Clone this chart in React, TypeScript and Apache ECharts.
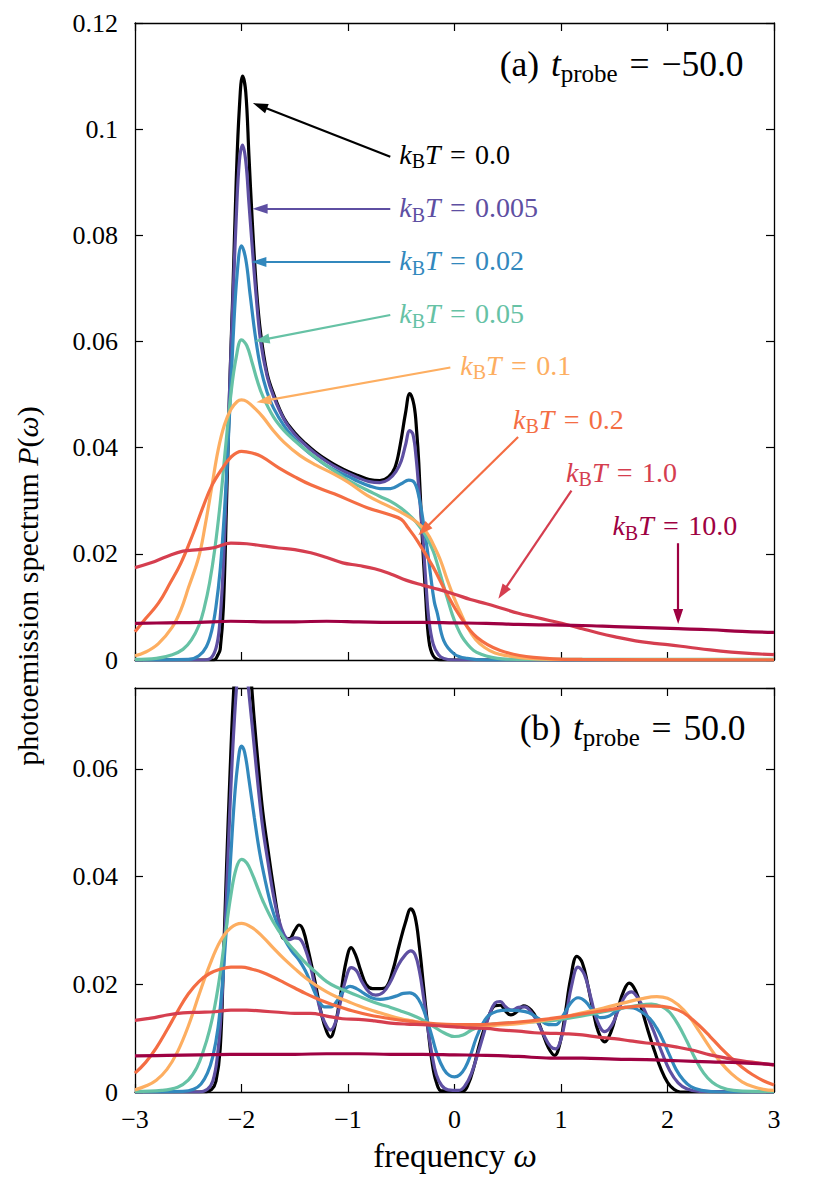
import React, { useEffect, useRef } from "react";
import * as echarts from "echarts";

const FONT = "Liberation Serif";

const temperatures = ["0.0", "0.005", "0.02", "0.05", "0.1", "0.2", "1.0", "10.0"];
const colors = ["#000000", "#5e4fa2", "#3288bd", "#66c2a5", "#fdae61", "#f46d43", "#d53e4f", "#9e0142"];

// ---- panel (a): t_probe = -50.0 ----
const a_T0 = [[-3,0],[-2.35,0],[-2.26,0],[-2.22,0.001],[-2.2,0.002],[-2.17,0.01],[-2.14,0.03],[-2.11,0.052],[-2.08,0.07],[-2.05,0.09],[-2.02,0.104],[-1.99,0.110],[-1.96,0.107],[-1.93,0.095],[-1.9,0.083],[-1.86,0.070],[-1.82,0.0615],[-1.76,0.054],[-1.7,0.0502],[-1.6,0.0455],[-1.5,0.0428],[-1.4,0.0408],[-1.3,0.0391],[-1.2,0.0377],[-1.1,0.0365],[-1.0,0.0355],[-0.9,0.0347],[-0.8,0.034],[-0.7,0.0338],[-0.62,0.0345],[-0.56,0.0362],[-0.51,0.0405],[-0.46,0.0465],[-0.42,0.0502],[-0.38,0.048],[-0.355,0.043],[-0.335,0.037],[-0.305,0.024],[-0.27,0.0118],[-0.24,0.0036],[-0.2,0.0008],[-0.13,0],[3,0]];
const a_T0005 = [[-3,0],[-2.35,0],[-2.28,0.0005],[-2.23,0.003],[-2.2,0.008],[-2.17,0.018],[-2.14,0.034],[-2.11,0.052],[-2.08,0.068],[-2.05,0.083],[-2.02,0.094],[-1.99,0.097],[-1.96,0.094],[-1.93,0.086],[-1.9,0.078],[-1.86,0.068],[-1.82,0.060],[-1.76,0.0535],[-1.7,0.0497],[-1.6,0.0453],[-1.5,0.0425],[-1.4,0.0405],[-1.3,0.0388],[-1.2,0.0374],[-1.1,0.0362],[-1.0,0.0352],[-0.9,0.0343],[-0.8,0.0336],[-0.7,0.0334],[-0.62,0.034],[-0.55,0.0355],[-0.5,0.0375],[-0.46,0.0405],[-0.42,0.0432],[-0.39,0.0425],[-0.36,0.038],[-0.33,0.031],[-0.3,0.024],[-0.27,0.015],[-0.24,0.0075],[-0.2,0.003],[-0.15,0.001],[-0.1,0.0003],[0,0],[3,0]];
const a_T002 = [[-3,0],[-2.5,0.0001],[-2.4,0.0008],[-2.33,0.0025],[-2.28,0.0055],[-2.24,0.010],[-2.2,0.017],[-2.16,0.028],[-2.12,0.043],[-2.08,0.060],[-2.04,0.073],[-2.0,0.078],[-1.96,0.0755],[-1.92,0.069],[-1.87,0.061],[-1.82,0.055],[-1.76,0.0505],[-1.7,0.0475],[-1.6,0.0441],[-1.5,0.0416],[-1.4,0.0396],[-1.3,0.038],[-1.2,0.0366],[-1.1,0.0355],[-1.0,0.0346],[-0.9,0.0336],[-0.8,0.0328],[-0.7,0.0323],[-0.6,0.0323],[-0.5,0.0332],[-0.43,0.0339],[-0.38,0.0335],[-0.34,0.0313],[-0.29,0.0256],[-0.25,0.020],[-0.226,0.0162],[-0.19,0.011],[-0.16,0.0087],[-0.1,0.0036],[0,0.0011],[0.12,0.0003],[0.3,0],[3,0]];
const a_T005 = [[-3,0.0001],[-2.8,0.0003],[-2.65,0.001],[-2.55,0.002],[-2.47,0.0038],[-2.4,0.0065],[-2.35,0.0098],[-2.3,0.0145],[-2.25,0.021],[-2.2,0.0295],[-2.15,0.040],[-2.1,0.050],[-2.05,0.057],[-2.0,0.0603],[-1.95,0.0592],[-1.9,0.0560],[-1.85,0.0525],[-1.8,0.0497],[-1.7,0.0458],[-1.6,0.0432],[-1.5,0.0413],[-1.4,0.0396],[-1.3,0.0381],[-1.2,0.0366],[-1.1,0.0352],[-1.0,0.0339],[-0.9,0.0328],[-0.8,0.0318],[-0.7,0.0308],[-0.6,0.0299],[-0.5,0.0286],[-0.4,0.0268],[-0.33,0.0252],[-0.26,0.0231],[-0.2,0.0205],[-0.16,0.018],[-0.11,0.0145],[-0.07,0.0118],[-0.02,0.0085],[0.025,0.0062],[0.07,0.0044],[0.12,0.003],[0.18,0.0018],[0.25,0.0011],[0.35,0.0005],[0.45,0.0002],[0.7,0.0001],[3,0.0001]];
const a_T01 = [[-3,0.0008],[-2.9,0.0015],[-2.78,0.0031],[-2.65,0.0062],[-2.57,0.0094],[-2.5,0.0135],[-2.4,0.0195],[-2.34,0.0255],[-2.28,0.0325],[-2.22,0.0395],[-2.16,0.0443],[-2.1,0.0472],[-2.04,0.0487],[-2.0,0.049],[-1.95,0.0487],[-1.87,0.0473],[-1.8,0.0458],[-1.7,0.0432],[-1.6,0.041],[-1.45,0.0385],[-1.3,0.0367],[-1.15,0.0352],[-1.0,0.0335],[-0.82,0.031],[-0.665,0.0294],[-0.5,0.0278],[-0.35,0.0259],[-0.26,0.024],[-0.2,0.0218],[-0.13,0.0187],[-0.07,0.0152],[-0.006,0.0118],[0.06,0.0088],[0.12,0.0062],[0.2,0.0038],[0.28,0.0024],[0.38,0.0013],[0.5,0.0008],[0.7,0.0003],[1.0,0.0001],[3,0]];
const a_T02 = [[-3,0.0053],[-2.9,0.0078],[-2.78,0.0107],[-2.67,0.0145],[-2.57,0.0182],[-2.46,0.0235],[-2.36,0.0289],[-2.28,0.0328],[-2.19,0.0358],[-2.1,0.0382],[-2.0,0.0393],[-1.9,0.039],[-1.81,0.0383],[-1.65,0.0362],[-1.5,0.0345],[-1.35,0.033],[-1.13,0.0313],[-0.82,0.0287],[-0.6,0.0273],[-0.5,0.0265],[-0.44,0.025],[-0.35,0.0225],[-0.2,0.0175],[-0.07,0.0124],[0.06,0.008],[0.21,0.0043],[0.43,0.0018],[0.74,0.0005],[1.2,0.0001],[3,0]];
const a_T1 = [[-3,0.0174],[-2.85,0.0183],[-2.7,0.0195],[-2.55,0.0205],[-2.4,0.0208],[-2.25,0.0212],[-2.1,0.022],[-1.95,0.0219],[-1.8,0.0215],[-1.65,0.0211],[-1.5,0.0208],[-1.35,0.0202],[-1.2,0.0193],[-1.05,0.0183],[-0.9,0.0178],[-0.75,0.0172],[-0.6,0.0162],[-0.45,0.015],[-0.3,0.0141],[-0.15,0.0133],[0,0.0124],[0.15,0.0114],[0.3,0.0106],[0.45,0.0097],[0.6,0.0088],[0.75,0.0081],[0.9,0.0074],[1.05,0.0067],[1.2,0.0059],[1.35,0.0051],[1.5,0.0044],[1.7,0.0036],[1.9,0.0031],[2.0,0.0029],[2.2,0.0024],[2.4,0.0019],[2.6,0.0015],[2.8,0.0012],[3.0,0.001]];
const a_T10 = [[-3,0.0069],[-2.7,0.007],[-2.4,0.0071],[-2.1,0.0073],[-1.8,0.0072],[-1.5,0.0072],[-1.2,0.0073],[-0.9,0.0072],[-0.6,0.0071],[-0.3,0.0071],[0,0.007],[0.3,0.0069],[0.6,0.0067],[0.9,0.0066],[1.2,0.0065],[1.5,0.0063],[1.8,0.0061],[2.1,0.0059],[2.4,0.0057],[2.7,0.0054],[3.0,0.0052]];

// ---- panel (b): t_probe = 50.0 ----
const b_T0 = [[-3,0],[-2.35,0],[-2.28,0.0005],[-2.24,0.002],[-2.2,0.008],[-2.17,0.024],[-2.14,0.042],[-2.11,0.058],[-2.08,0.072],[-2.04,0.085],[-2.0,0.09],[-1.96,0.087],[-1.92,0.079],[-1.88,0.069],[-1.84,0.06],[-1.8,0.052],[-1.75,0.0448],[-1.7,0.038],[-1.65,0.032],[-1.6,0.0285],[-1.55,0.0285],[-1.5,0.03],[-1.46,0.031],[-1.42,0.03],[-1.37,0.026],[-1.31,0.0205],[-1.25,0.0145],[-1.2,0.0112],[-1.165,0.0102],[-1.12,0.0125],[-1.07,0.018],[-1.02,0.024],[-0.97,0.0268],[-0.93,0.0255],[-0.88,0.0225],[-0.83,0.02],[-0.77,0.0192],[-0.7,0.0192],[-0.64,0.0195],[-0.58,0.0225],[-0.52,0.0272],[-0.46,0.0315],[-0.41,0.034],[-0.37,0.0325],[-0.33,0.027],[-0.29,0.0195],[-0.25,0.012],[-0.21,0.0055],[-0.17,0.0018],[-0.12,0.0002],[0.08,0.0002],[0.13,0.0015],[0.18,0.0045],[0.23,0.0085],[0.28,0.0118],[0.33,0.0145],[0.38,0.016],[0.43,0.0161],[0.48,0.015],[0.53,0.0143],[0.58,0.0148],[0.65,0.016],[0.72,0.0152],[0.78,0.0133],[0.83,0.0108],[0.88,0.0083],[0.94,0.0068],[0.99,0.009],[1.04,0.0146],[1.09,0.021],[1.15,0.0252],[1.2,0.024],[1.25,0.02],[1.3,0.0152],[1.35,0.0112],[1.41,0.0093],[1.47,0.0112],[1.53,0.0152],[1.59,0.0188],[1.64,0.0202],[1.7,0.0188],[1.76,0.0152],[1.82,0.0112],[1.88,0.0075],[1.94,0.0042],[2.0,0.0018],[2.06,0.0005],[2.12,0],[3,0]];
const b_T0005 = [[-3,0],[-2.4,0],[-2.32,0.0005],[-2.27,0.002],[-2.23,0.006],[-2.19,0.015],[-2.15,0.032],[-2.11,0.052],[-2.07,0.068],[-2.03,0.079],[-2.0,0.082],[-1.96,0.079],[-1.92,0.072],[-1.88,0.064],[-1.84,0.056],[-1.8,0.049],[-1.75,0.0425],[-1.7,0.0365],[-1.65,0.032],[-1.6,0.0292],[-1.55,0.0283],[-1.5,0.0286],[-1.46,0.0285],[-1.41,0.027],[-1.35,0.0232],[-1.3,0.0185],[-1.25,0.0145],[-1.2,0.0122],[-1.165,0.0115],[-1.12,0.0128],[-1.07,0.0168],[-1.02,0.021],[-0.97,0.0231],[-0.92,0.0225],[-0.87,0.0205],[-0.8,0.0185],[-0.74,0.018],[-0.67,0.0185],[-0.6,0.0205],[-0.53,0.0235],[-0.46,0.0255],[-0.41,0.0262],[-0.37,0.0255],[-0.33,0.0225],[-0.29,0.0175],[-0.25,0.0118],[-0.21,0.0068],[-0.17,0.0032],[-0.12,0.0012],[-0.06,0.0004],[0.04,0.0003],[0.1,0.0012],[0.16,0.0035],[0.22,0.0072],[0.28,0.0112],[0.33,0.0145],[0.38,0.0165],[0.43,0.0168],[0.48,0.0158],[0.54,0.0152],[0.6,0.0157],[0.66,0.0158],[0.72,0.0148],[0.78,0.013],[0.84,0.0105],[0.9,0.0085],[0.95,0.008],[1.0,0.0098],[1.05,0.0145],[1.1,0.0198],[1.16,0.0232],[1.22,0.0218],[1.28,0.0175],[1.34,0.0132],[1.41,0.0112],[1.48,0.0125],[1.55,0.0158],[1.61,0.018],[1.66,0.0186],[1.72,0.0175],[1.8,0.0145],[1.88,0.0108],[1.95,0.0072],[2.02,0.004],[2.1,0.0017],[2.18,0.0006],[2.3,0.0001],[3,0]];
const b_T002 = [[-3,0],[-2.55,0.0001],[-2.45,0.0005],[-2.38,0.0015],[-2.32,0.0035],[-2.27,0.0065],[-2.22,0.012],[-2.18,0.02],[-2.14,0.031],[-2.1,0.044],[-2.06,0.056],[-2.02,0.0632],[-2.0,0.0642],[-1.97,0.063],[-1.93,0.058],[-1.88,0.051],[-1.83,0.0445],[-1.78,0.0395],[-1.72,0.0345],[-1.66,0.031],[-1.6,0.0285],[-1.53,0.0262],[-1.46,0.0245],[-1.4,0.0225],[-1.34,0.0198],[-1.28,0.0172],[-1.22,0.0158],[-1.16,0.0158],[-1.1,0.017],[-1.04,0.0188],[-0.98,0.0196],[-0.92,0.0192],[-0.85,0.0183],[-0.78,0.0175],[-0.7,0.0172],[-0.62,0.0174],[-0.55,0.0178],[-0.48,0.0183],[-0.42,0.0184],[-0.36,0.0178],[-0.31,0.0162],[-0.26,0.0135],[-0.21,0.0102],[-0.16,0.0068],[-0.1,0.0042],[-0.05,0.0031],[0,0.0028],[0.05,0.0032],[0.1,0.0045],[0.15,0.0068],[0.2,0.0098],[0.26,0.0125],[0.32,0.0142],[0.4,0.015],[0.5,0.0152],[0.6,0.0151],[0.7,0.0147],[0.8,0.0135],[0.88,0.0125],[0.95,0.0125],[1.02,0.0142],[1.09,0.0165],[1.16,0.0175],[1.23,0.0168],[1.3,0.015],[1.37,0.0138],[1.44,0.014],[1.52,0.015],[1.6,0.0157],[1.68,0.0156],[1.76,0.0148],[1.84,0.0135],[1.9,0.0118],[1.96,0.0095],[2.02,0.0068],[2.08,0.0042],[2.15,0.0022],[2.22,0.001],[2.32,0.0003],[2.5,0],[3,0]];
const b_T005 = [[-3,0.0001],[-2.75,0.0003],[-2.6,0.0009],[-2.5,0.0022],[-2.42,0.0045],[-2.36,0.0075],[-2.3,0.0115],[-2.25,0.016],[-2.2,0.022],[-2.15,0.0295],[-2.1,0.0365],[-2.05,0.0415],[-2.0,0.0432],[-1.95,0.0425],[-1.9,0.0405],[-1.85,0.038],[-1.8,0.0355],[-1.7,0.0315],[-1.6,0.0285],[-1.5,0.0262],[-1.4,0.024],[-1.3,0.0222],[-1.2,0.0205],[-1.1,0.0194],[-1.0,0.0186],[-0.9,0.0178],[-0.8,0.017],[-0.7,0.0163],[-0.6,0.0157],[-0.5,0.015],[-0.4,0.0143],[-0.3,0.0134],[-0.2,0.0122],[-0.1,0.011],[0,0.0103],[0.08,0.0106],[0.16,0.0115],[0.25,0.0122],[0.35,0.0126],[0.5,0.0128],[0.7,0.013],[0.9,0.0132],[1.1,0.0138],[1.3,0.0145],[1.5,0.0153],[1.7,0.016],[1.85,0.0163],[1.95,0.0158],[2.02,0.0148],[2.1,0.0125],[2.18,0.0095],[2.26,0.0062],[2.34,0.0035],[2.42,0.0018],[2.5,0.0009],[2.62,0.0003],[2.8,0.0001],[3,0.0001]];
const b_T01 = [[-3,0.0004],[-2.9,0.0011],[-2.8,0.0022],[-2.7,0.0042],[-2.6,0.0075],[-2.5,0.0122],[-2.4,0.018],[-2.3,0.0235],[-2.2,0.028],[-2.1,0.0305],[-2.0,0.0313],[-1.9,0.0305],[-1.8,0.0288],[-1.7,0.0267],[-1.6,0.0247],[-1.5,0.0229],[-1.4,0.0212],[-1.3,0.0198],[-1.2,0.0186],[-1.1,0.0176],[-1.0,0.0168],[-0.9,0.016],[-0.8,0.0153],[-0.7,0.0147],[-0.6,0.0141],[-0.5,0.0136],[-0.4,0.0132],[-0.3,0.0128],[-0.2,0.0125],[-0.1,0.0123],[0,0.0122],[0.2,0.0122],[0.4,0.0124],[0.6,0.0127],[0.8,0.0132],[1.0,0.0138],[1.2,0.0147],[1.4,0.0156],[1.6,0.0166],[1.75,0.0173],[1.9,0.0177],[2.0,0.0174],[2.1,0.0162],[2.2,0.0141],[2.3,0.0112],[2.4,0.0082],[2.5,0.0055],[2.6,0.0034],[2.7,0.0019],[2.8,0.001],[2.9,0.0005],[3.0,0.0003]];
const b_T02 = [[-3,0.0035],[-2.9,0.0055],[-2.8,0.0082],[-2.7,0.0115],[-2.6,0.015],[-2.5,0.0182],[-2.4,0.0205],[-2.3,0.022],[-2.2,0.0228],[-2.1,0.0232],[-2.0,0.0232],[-1.9,0.0228],[-1.8,0.0222],[-1.7,0.0213],[-1.6,0.0203],[-1.5,0.0193],[-1.4,0.0183],[-1.3,0.0174],[-1.2,0.0166],[-1.1,0.0159],[-1.0,0.0153],[-0.8,0.0143],[-0.6,0.0136],[-0.4,0.0131],[-0.2,0.0127],[0,0.0125],[0.2,0.0125],[0.4,0.0127],[0.6,0.013],[0.8,0.0134],[1.0,0.0139],[1.2,0.0145],[1.4,0.0151],[1.6,0.0157],[1.8,0.016],[1.95,0.0159],[2.1,0.0152],[2.2,0.014],[2.3,0.0123],[2.4,0.0103],[2.5,0.0082],[2.6,0.0063],[2.7,0.0046],[2.8,0.0032],[2.9,0.0021],[3.0,0.0013]];
const b_T1 = [[-3,0.0133],[-2.85,0.0137],[-2.7,0.0143],[-2.55,0.0147],[-2.4,0.0148],[-2.25,0.0149],[-2.1,0.0152],[-1.95,0.0152],[-1.8,0.015],[-1.65,0.0148],[-1.5,0.0146],[-1.35,0.0146],[-1.2,0.0141],[-1.05,0.0136],[-0.9,0.0135],[-0.75,0.0132],[-0.6,0.0128],[-0.45,0.0126],[-0.3,0.0125],[-0.15,0.0123],[0,0.0121],[0.15,0.0119],[0.3,0.0118],[0.45,0.0115],[0.6,0.0113],[0.75,0.011],[0.9,0.0109],[1.05,0.0108],[1.2,0.0106],[1.35,0.0102],[1.5,0.0099],[1.65,0.0095],[1.8,0.0091],[1.95,0.0088],[2.1,0.0083],[2.25,0.0077],[2.4,0.0069],[2.55,0.0063],[2.7,0.0058],[2.85,0.0054],[3.0,0.005]];
const b_T10 = [[-3,0.0067],[-2.7,0.0068],[-2.4,0.0069],[-2.1,0.007],[-1.8,0.007],[-1.5,0.007],[-1.2,0.0071],[-0.9,0.0071],[-0.6,0.007],[-0.3,0.007],[0,0.0069],[0.3,0.0068],[0.6,0.0066],[0.9,0.0063],[1.2,0.0063],[1.5,0.0061],[1.8,0.006],[2.1,0.0058],[2.4,0.0056],[2.7,0.0054],[3.0,0.0051]];

const panelA = [a_T0, a_T0005, a_T002, a_T005, a_T01, a_T02, a_T1, a_T10];
const panelB = [b_T0, b_T0005, b_T002, b_T005, b_T01, b_T02, b_T1, b_T10];

// annotation arrows of panel (a), in data coordinates: [tail, head]
const arrowTails = [[-0.603,0.0948],[-0.603,0.085],[-0.603,0.075],[-0.603,0.065],[-0.039,0.0551],[0.597,0.042],[1.098,0.0319],[2.1,0.022]];
const arrowHeads = [[-1.827,0.1044],[-1.825,0.085],[-1.837,0.075],[-1.807,0.0603],[-1.791,0.0488],[-0.29,0.0245],[0.451,0.0127],[2.1,0.0082]];
// label anchors (left edge, vertical middle), panel (a) data coordinates
const labelAnchors = [[-0.519,0.0951],[-0.519,0.085],[-0.519,0.075],[-0.519,0.065],[0.055,0.0553],[0.55,0.0452],[1.048,0.0352],[1.483,0.0251]];
const titleAnchorA = [2.714, 0.1121];
const titleAnchorB = [2.733, 0.0674];

const X_MIN = -3, X_MAX = 3;
const YA_MAX = 0.12, YB_MAX = 0.075;

const GRID_A = { left: 135, top: 23, width: 639, height: 637 };
const GRID_B = { left: 135, top: 688, width: 639, height: 404 };

const LABEL_SIZE = 26;
const ANNOT_SIZE = 28;
const TITLE_SIZE = 35.5;
const SP = "\u2004"; // three-per-em space, close to TeX's thick space

function richFor(F: number) {
  const sub = Math.round(F * 0.7);
  return {
    i: { fontStyle: "italic", fontSize: F, lineHeight: F + 2, verticalAlign: "top", fontFamily: FONT },
    r: { fontSize: F, lineHeight: F + 2, verticalAlign: "top", fontFamily: FONT },
    s: { fontSize: sub, lineHeight: sub, padding: [Math.round(F * 0.41), 0, 0, 0], verticalAlign: "top", fontFamily: FONT },
  };
}

const minus = (v: number) => (v < 0 ? "\u2212" + Math.abs(v) : String(v));

function App() {
  const ref = useRef<HTMLDivElement>(null);
  useEffect(() => {
    document.body.style.margin = "0";
    const el = ref.current!;
    const chart = echarts.init(el, null, { renderer: "svg" });

    const axisLine = { show: true, onZero: false, lineStyle: { color: "#000", width: 1.3 } };
    const tick = { show: true, inside: true, length: 8, lineStyle: { color: "#000", width: 1.2 } };
    const lbl = { show: true, color: "#000", fontFamily: FONT, fontSize: LABEL_SIZE };

    const xAxis: any[] = [];
    const yAxis: any[] = [];
    [0, 1].forEach((g) => {
      ["bottom", "top"].forEach((pos) => {
        xAxis.push({
          type: "value", gridIndex: g, position: pos, min: X_MIN, max: X_MAX, interval: 1,
          axisLine, axisTick: tick, splitLine: { show: false },
          axisLabel: g === 1 && pos === "bottom" ? { ...lbl, margin: 14, formatter: minus } : { show: false },
        });
      });
      ["left", "right"].forEach((pos) => {
        yAxis.push({
          type: "value", gridIndex: g, position: pos, min: 0, max: g === 0 ? YA_MAX : YB_MAX, interval: 0.02,
          axisLine, axisTick: tick, splitLine: { show: false },
          axisLabel: pos === "left" ? { ...lbl, margin: 17, showMaxLabel: g === 0 } : { show: false },
        });
      });
    });

    const series: any[] = [];
    panelA.forEach((d, k) => {
      series.push({
        type: "line", name: "a" + temperatures[k], xAxisIndex: 0, yAxisIndex: 0, data: d,
        showSymbol: false, symbol: "none", smooth: 0.4,
        lineStyle: { color: colors[k], width: 3.2 }, itemStyle: { color: colors[k] },
        silent: true,
        markLine: {
          silent: true, animation: false, symbol: ["none", "triangle"],
          label: { show: false },
          lineStyle: { color: colors[k], width: 2.2, type: "solid" },
          data: [[
            { coord: arrowTails[k], symbol: "none" },
            { coord: arrowHeads[k], symbol: "triangle", symbolSize: [10, 15] },
          ]],
        },
      });
    });
    panelB.forEach((d, k) => {
      series.push({
        type: "line", name: "b" + temperatures[k], xAxisIndex: 2, yAxisIndex: 2, data: d,
        showSymbol: false, symbol: "none", smooth: 0.4,
        lineStyle: { color: colors[k], width: 3.2 }, itemStyle: { color: colors[k] },
        silent: true,
      });
    });

    chart.setOption({
      animation: false,
      backgroundColor: "#fff",
      textStyle: { fontFamily: FONT },
      grid: [
        { ...GRID_A, containLabel: false, outerBoundsMode: "none" },
        { ...GRID_B, containLabel: false, outerBoundsMode: "none" },
      ],
      xAxis, yAxis, series,
    });

    const toA = (p: number[]) => chart.convertToPixel({ seriesIndex: 0 }, p) as number[];
    const toB = (p: number[]) => chart.convertToPixel({ seriesIndex: 8 }, p) as number[];

    const graphics: any[] = [];
    labelAnchors.forEach((p, k) => {
      const [x, y] = toA(p);
      graphics.push({
        type: "text", x, y, silent: true,
        style: {
          text: "{i|k}{s|B}{i|T}{r|" + SP + "=" + SP + temperatures[k] + "}",
          rich: richFor(ANNOT_SIZE), fill: colors[k], align: "left", verticalAlign: "middle",
          fontFamily: FONT, fontSize: ANNOT_SIZE,
        },
      });
    });
    const ta = toA(titleAnchorA);
    graphics.push({
      type: "text", x: ta[0], y: ta[1], silent: true,
      style: { text: "{r|(a)" + SP + "}{i|t}{s|probe}{r|" + SP + "=" + SP + "\u221250.0}", rich: richFor(TITLE_SIZE), fill: "#000", align: "right", verticalAlign: "middle", fontFamily: FONT, fontSize: TITLE_SIZE },
    });
    const tb = toB(titleAnchorB);
    graphics.push({
      type: "text", x: tb[0], y: tb[1], silent: true,
      style: { text: "{r|(b)" + SP + "}{i|t}{s|probe}{r|" + SP + "=" + SP + "50.0}", rich: richFor(TITLE_SIZE), fill: "#000", align: "right", verticalAlign: "middle", fontFamily: FONT, fontSize: TITLE_SIZE },
    });
    // axis titles
    graphics.push({
      type: "text", x: 455, y: 1156, silent: true,
      style: { text: "{r|frequency }{i|\u03c9}", rich: { r: { fontSize: 33, fontFamily: FONT }, i: { fontSize: 33, fontStyle: "italic", fontFamily: FONT } }, fill: "#000", align: "center", verticalAlign: "middle", fontFamily: FONT, fontSize: 33 },
    });
    graphics.push({
      type: "text", x: 27, y: 586, rotation: Math.PI / 2, silent: true,
      style: { text: "{r|photoemission spectrum }{i|P}{r|(}{i|\u03c9}{r|)}", rich: { r: { fontSize: 30, fontFamily: FONT }, i: { fontSize: 30, fontStyle: "italic", fontFamily: FONT } }, fill: "#000", align: "center", verticalAlign: "middle", fontFamily: FONT, fontSize: 30 },
    });

    chart.setOption({ graphic: graphics });

    return () => chart.dispose();
  }, []);
  return <div ref={ref} style={{ width: "830px", height: "1180px" }} />;
}

export default App;
